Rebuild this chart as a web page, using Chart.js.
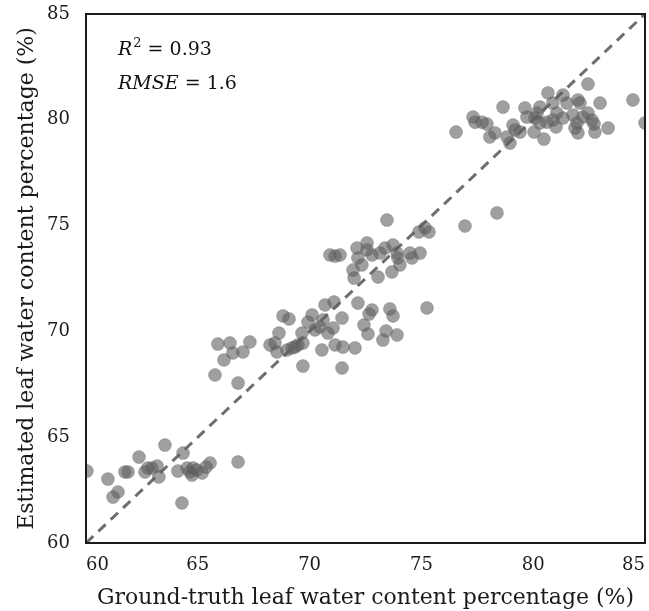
<!DOCTYPE html>
<html>
<head>
<meta charset="utf-8">
<script src="https://cdn.jsdelivr.net/npm/chart.js@4.4.1/dist/chart.umd.min.js"></script>
<style>
  html, body { margin: 0; padding: 0; background: #ffffff; }
  #wrap { width: 649px; height: 611px; position: relative; }
</style>
</head>
<body>
<div id="wrap"><canvas id="c" width="649" height="611"></canvas></div>
<script>
// Axis ticks (both axes share the 60–85 range)
const axisTicks = [60, 65, 70, 75, 80, 85];

// Ground-truth leaf water content (%) for each sample
const groundTruth = [
  60.04, 60.98, 61.21, 61.43, 61.74, 61.88, 62.37, 62.64, 62.77, 62.95,
  63.18, 63.26, 63.53, 64.11, 64.34, 64.29, 64.52, 64.65, 64.79, 64.74,
  64.96, 65.19, 65.37, 65.55, 66.80,
  65.90, 66.44, 66.57, 66.17, 65.77, 66.80, 67.02, 67.33, 68.23, 68.45,
  68.54, 68.63, 68.81, 69.08, 68.99, 69.21, 69.35, 69.48, 69.66, 69.70,
  69.70, 69.93, 70.11, 70.24, 70.46, 70.55, 70.69, 70.60, 71.09, 70.82,
  71.05, 71.14, 71.45, 71.49, 71.45, 72.03, 72.16, 72.79, 72.66, 73.59,
  73.73, 72.43, 72.61, 73.42, 73.28, 73.91, 75.25,
  73.46, 70.91, 71.14, 71.36, 72.12, 72.16, 72.57, 72.57, 72.34, 71.94,
  71.99, 72.79, 73.15, 73.06, 73.37, 73.73, 73.91, 73.95, 74.04, 73.68,
  74.49, 74.58, 74.94, 74.89, 75.16, 75.34, 76.95, 78.38,
  76.55, 77.31, 77.40, 77.71, 77.93, 78.06, 78.29, 78.65, 78.83, 78.96,
  79.10, 79.19, 79.41, 79.63, 79.72, 80.04, 80.17, 80.30, 80.30, 80.48,
  80.61, 80.66, 80.88, 81.06, 80.88, 81.33, 81.51, 81.33, 82.00, 82.09,
  81.78, 81.96, 81.87, 82.00, 82.45, 82.45, 82.63, 82.72, 82.76, 82.99,
  83.35, 84.46, 85.00, 81.02, 82.23, 80.08
];

// Estimated leaf water content (%) for the same samples
const estimated = [
  63.40, 63.02, 62.17, 62.41, 63.36, 63.36, 64.06, 63.36, 63.54, 63.54,
  63.64, 63.12, 64.63, 63.40, 64.25, 61.89, 63.54, 63.36, 63.54, 63.21,
  63.45, 63.31, 63.59, 63.78, 63.83,
  69.40, 69.45, 68.98, 68.65, 67.94, 67.56, 69.03, 69.50, 69.36, 69.45,
  69.03, 69.92, 70.73, 70.59, 69.12, 69.22, 69.26, 69.36, 69.92, 69.45,
  68.36, 70.44, 70.78, 70.07, 70.21, 69.12, 71.25, 70.54, 71.39, 69.92,
  70.16, 69.36, 70.63, 69.26, 68.27, 69.22, 71.34, 71.01, 70.82, 71.06,
  70.73, 70.30, 69.88, 70.02, 69.59, 69.83, 71.11,
  75.26, 73.61, 73.56, 73.61, 73.94, 73.47, 74.18, 73.85, 73.14, 72.90,
  72.52, 73.61, 73.70, 72.57, 73.94, 74.08, 73.70, 73.47, 73.14, 72.81,
  73.70, 73.47, 73.70, 74.70, 74.89, 74.70, 74.98, 75.60,
  79.42, 80.13, 79.89, 79.89, 79.80, 79.19, 79.38, 80.60, 79.19, 78.90,
  79.75, 79.52, 79.42, 80.56, 80.13, 79.42, 80.32, 80.60, 79.85, 79.09,
  79.89, 81.27, 80.79, 80.32, 79.99, 81.17, 80.79, 80.08, 80.94, 80.79,
  80.23, 79.85, 79.61, 79.38, 81.69, 80.32, 79.99, 79.80, 79.42, 80.79,
  79.61, 80.94, 79.85, 79.66, 80.13, 80.08
];

// 1:1 reference line end points
const identityLine = [60, 85];

// Fit statistics shown in the corner
const r2Value = '0.93';
const rmseValue = '1.6';

const samples = groundTruth.map((g, i) => ({ x: g, y: estimated[i] }));
const lineData = identityLine.map(v => ({ x: v, y: v }));

const serif = 'DejaVu Serif';

// Black frame around the plotting area plus the statistics text
const framePlugin = {
  id: 'frame',
  afterDatasetsDraw(chart) {
    const { ctx, chartArea: a } = chart;
    ctx.save();
    ctx.strokeStyle = '#1a1a1a';
    ctx.lineWidth = 2;
    ctx.strokeRect(a.left, a.top, a.right - a.left, a.bottom - a.top);

    ctx.fillStyle = '#111111';
    ctx.textBaseline = 'alphabetic';
    ctx.textAlign = 'left';
    let x = a.left + 32;
    let y = a.top + 41;
    ctx.font = `italic 19px ${serif}`;
    ctx.fillText('R', x, y);
    x += ctx.measureText('R').width + 1;
    ctx.font = `13px ${serif}`;
    ctx.fillText('2', x, y - 8);
    x += ctx.measureText('2').width;
    ctx.font = `19px ${serif}`;
    ctx.fillText(' = ' + r2Value, x, y);

    x = a.left + 32;
    y = a.top + 75;
    ctx.font = `italic 19px ${serif}`;
    ctx.fillText('RMSE', x, y);
    x += ctx.measureText('RMSE').width;
    ctx.font = `19px ${serif}`;
    ctx.fillText(' = ' + rmseValue, x, y);
    ctx.restore();
  }
};

function fixedAxis(size, horizontal) {
  return function (scale) {
    if (horizontal) scale.height = size; else scale.width = size;
    scale.paddingLeft = 0; scale.paddingRight = 0;
    scale.paddingTop = 0; scale.paddingBottom = 0;
  };
}

new Chart(document.getElementById('c'), {
  type: 'scatter',
  data: {
    datasets: [
      {
        label: 'Samples',
        data: samples,
        backgroundColor: 'rgba(95,95,95,0.6)',
        borderColor: 'rgba(95,95,95,0.3)',
        borderWidth: 1,
        pointRadius: 6.5,
        pointHoverRadius: 6.5,
        clip: 0
      },
      {
        label: '1:1',
        type: 'line',
        data: lineData,
        borderColor: '#6e6e6e',
        borderWidth: 3,
        borderDash: [10, 7],
        pointRadius: 0,
        fill: false,
        clip: 0
      }
    ]
  },
  options: {
    responsive: false,
    animation: false,
    events: [],
    layout: { autoPadding: false, padding: { left: 0, right: 4, top: 14, bottom: 0 } },
    plugins: { legend: { display: false }, tooltip: { enabled: false } },
    scales: {
      x: {
        type: 'linear',
        min: axisTicks[0],
        max: axisTicks[axisTicks.length - 1],
        afterBuildTicks(scale) { scale.ticks = axisTicks.map(v => ({ value: v })); },
        afterFit: fixedAxis(68, true),
        grid: { display: false, drawTicks: false },
        border: { display: false },
        ticks: { padding: 12, align: 'inner', color: '#1a1a1a', font: { family: serif, size: 18 }, maxRotation: 0 },
        title: {
          display: true,
          text: 'Ground-truth leaf water content percentage (%)',
          color: '#1a1a1a',
          font: { family: serif, size: 22 },
          padding: { top: 0, bottom: 0 }
        }
      },
      y: {
        type: 'linear',
        min: axisTicks[0],
        max: axisTicks[axisTicks.length - 1],
        afterBuildTicks(scale) { scale.ticks = axisTicks.map(v => ({ value: v })); },
        afterFit: fixedAxis(86, false),
        grid: { display: false, drawTicks: false },
        border: { display: false },
        ticks: { padding: 16, color: '#1a1a1a', font: { family: serif, size: 18 } },
        title: {
          display: true,
          text: 'Estimated leaf water content percentage (%)',
          color: '#1a1a1a',
          font: { family: serif, size: 22 },
          padding: { top: 14, bottom: 0 }
        }
      }
    }
  },
  plugins: [framePlugin]
});
</script>
</body>
</html>
